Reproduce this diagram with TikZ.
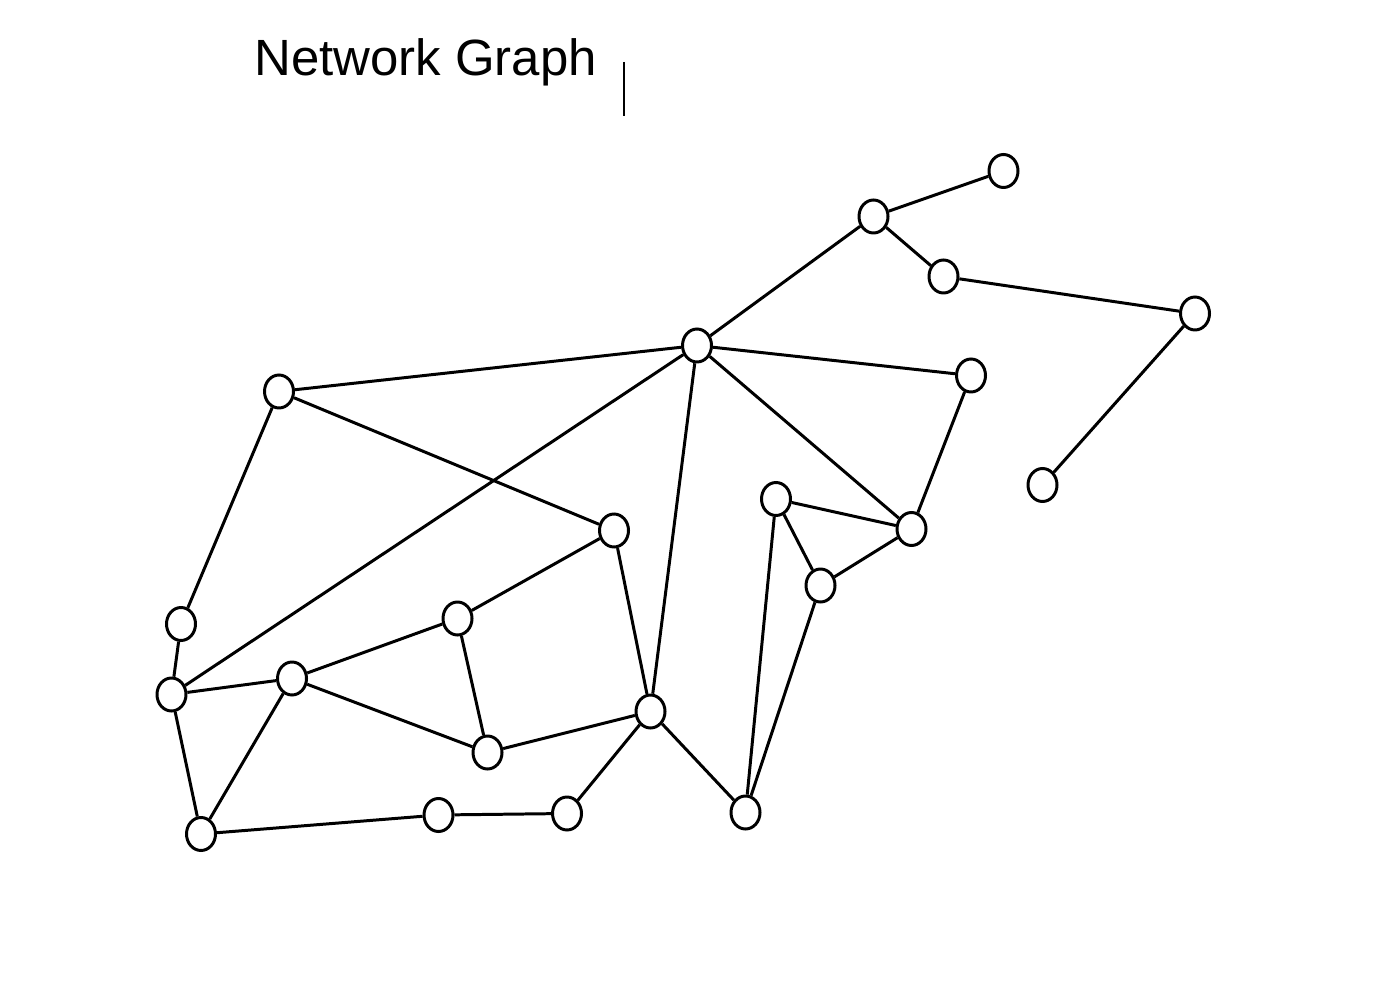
\documentclass[tikz,border=0pt]{standalone}
\usepackage{fontspec}
\setmainfont{Liberation Sans}
\usetikzlibrary{shapes.geometric}
\begin{document}
\begin{tikzpicture}[x=0.02cm,y=-0.02cm,
  vtx/.style={draw,ellipse,line width=1.7pt,minimum width=0.58cm,minimum height=0.66cm,inner sep=0pt},
  edge/.style={line width=1.7pt}]
\useasboundingbox (0,0) rectangle (1396,996);
\node[anchor=base west,inner sep=0pt,font=\fontsize{29}{34}\selectfont] (title) at (254,76) {Network Graph};
\coordinate (ca) at (624,62);
\coordinate (cb) at (624,116);
\draw[line width=0.9pt] (ca) -- (cb);
\node[vtx] (n1) at (1003.5,171) {};
\node[vtx] (n2) at (873.5,216.5) {};
\node[vtx] (n3) at (943.5,276.5) {};
\node[vtx] (n4) at (1195,313.5) {};
\node[vtx] (n5) at (697,345.5) {};
\node[vtx] (n6) at (971,375.5) {};
\node[vtx] (n7) at (279,391.5) {};
\node[vtx] (n8) at (1042.5,485) {};
\node[vtx] (n9) at (776,499) {};
\node[vtx] (n10) at (911.5,529) {};
\node[vtx] (n11) at (614,530.5) {};
\node[vtx] (n12) at (820.5,585.5) {};
\node[vtx] (n13) at (181,624) {};
\node[vtx] (n14) at (457.5,618.5) {};
\node[vtx] (n15) at (171.5,694.5) {};
\node[vtx] (n16) at (292,678.5) {};
\node[vtx] (n17) at (650.5,711.5) {};
\node[vtx] (n18) at (487.5,752.5) {};
\node[vtx] (n19) at (201,834) {};
\node[vtx] (n20) at (438.5,815) {};
\node[vtx] (n21) at (567,813.5) {};
\node[vtx] (n22) at (745.5,812.5) {};
\foreach \a/\b in {n1/n2,n2/n3,n2/n5,n3/n4,n4/n8,n5/n7,n5/n6,n5/n15,n5/n17,n5/n10,
  n6/n10,n7/n13,n7/n11,n9/n10,n9/n12,n9/n22,n10/n12,n12/n22,n11/n14,n11/n17,
  n14/n16,n14/n18,n16/n18,n15/n16,n15/n13,n15/n19,n16/n19,n19/n20,n20/n21,
  n21/n17,n17/n22,n17/n18}
  \draw[edge] (\a) -- (\b);
\end{tikzpicture}
\end{document}
